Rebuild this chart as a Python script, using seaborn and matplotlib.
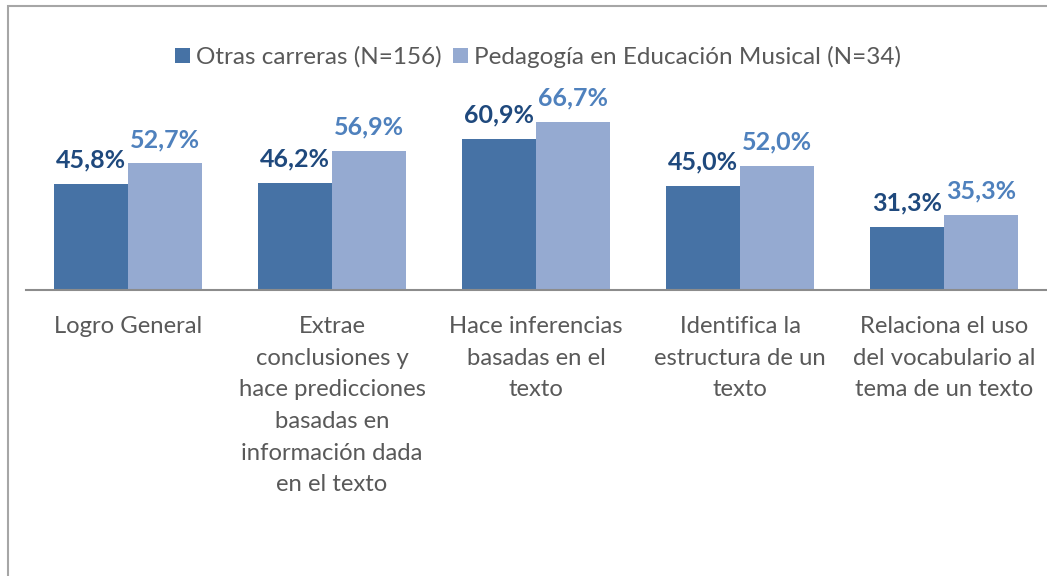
import matplotlib
matplotlib.use("Agg")
import matplotlib.pyplot as plt
import seaborn as sns
import pandas as pd
from matplotlib.patches import Rectangle

categories = [
    "Logro General",
    "Extrae\nconclusiones y\nhace predicciones\nbasadas en\ninformación dada\nen el texto",
    "Hace inferencias\nbasadas en el\ntexto",
    "Identifica la\nestructura de un\ntexto",
    "Relaciona el uso\ndel vocabulario al\ntema de un texto",
]
series_names = ["Otras carreras (N=156)", "Pedagogía en Educación Musical (N=34)"]
otras = [45.8, 46.2, 60.9, 45.0, 31.3]
musical = [52.7, 56.9, 66.7, 52.0, 35.3]

df = pd.DataFrame({
    "cat": categories * 2,
    "serie": [series_names[0]] * 5 + [series_names[1]] * 5,
    "valor": otras + musical,
})

sns.set_theme(style="white")
plt.rcParams["font.family"] = ["Lato", "DejaVu Sans"]

bar_colors = ["#4672A5", "#95AAD1"]
label_colors = ["#1F497D", "#4F81BD"]

fig = plt.figure(figsize=(10.47, 5.76), dpi=100)
ax = fig.add_axes([26 / 1047, 1 - 290 / 576, 1020 / 1047, (290 - 82.5) / 576])

sns.barplot(data=df, x="cat", y="valor", hue="serie", palette=bar_colors,
            width=0.73, gap=0, ax=ax, legend=True, saturation=1, linewidth=0)

ax.set_ylim(10, 80)
ax.set_xlim(-0.5, 4.5)
ax.set_xlabel("")
ax.set_ylabel("")
ax.set_yticks([])
for s in ["top", "right", "left"]:
    ax.spines[s].set_visible(False)
ax.spines["bottom"].set_color("#8C8C8C")
ax.spines["bottom"].set_linewidth(1.5)
ax.tick_params(axis="x", length=0, pad=19, labelsize=17.2, labelcolor="#595959")
for t in ax.get_xticklabels():
    t.set_linespacing(1.62)
    t.set_verticalalignment("top")

for i, cont in enumerate(ax.containers):
    labels = [f"{v:.1f}%".replace(".", ",") for v in cont.datavalues]
    ax.bar_label(cont, labels=labels, padding=9, color=label_colors[i],
                 fontsize=18, fontweight="bold")

leg = ax.legend(loc="center", bbox_to_anchor=(538 / 1047, 1 - 57 / 576),
                bbox_transform=fig.transFigure, ncol=2, frameon=False,
                fontsize=17.5, handlelength=0.6, handleheight=0.6,
                handletextpad=0.25, columnspacing=0.5)
for txt in leg.get_texts():
    txt.set_color("#595959")

fig.patches.append(Rectangle((8 / 1047, -0.1), 1.2, 1 - 6 / 576 + 0.1,
                             transform=fig.transFigure, fill=False,
                             edgecolor="#A6A6A6", linewidth=1.5))

fig.savefig("out.png", dpi=100)
